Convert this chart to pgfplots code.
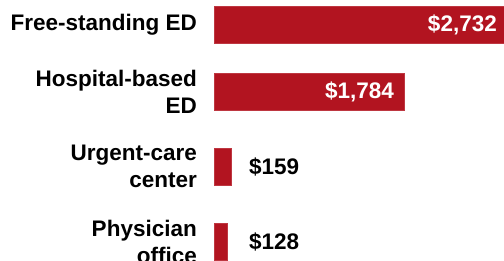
\documentclass[border=0pt]{standalone}
\usepackage{fontspec}
\setmainfont{Liberation Sans}
\usepackage{pgfplots}
\pgfplotsset{compat=1.18}
\definecolor{barred}{RGB}{178,20,32}
\begin{document}
\begin{tikzpicture}[x=1bp,y=1bp]
\useasboundingbox (0,0) rectangle (504,260);
\begin{axis}[
  at={(214bp,0bp)}, anchor=south west,
  scale only axis, width=290bp, height=260bp,
  xmin=0, xmax=2720, ymin=0, ymax=260, y dir=reverse,
  axis line style={draw=none}, ticks=none,
  clip mode=individual,
  xbar, bar width=37bp,
]
\addplot[fill=barred, draw=barred!85!white, line width=0.4bp] coordinates {(2732,25) (1784,91.5) (159,166.5) (128,241.5)};
\begin{scope}[every node/.style={inner sep=0pt, font=\bfseries\fontsize{22.5bp}{27bp}\selectfont}]
\node[anchor=east, align=right] at (axis cs:0,25) [xshift=-17bp] {Free-standing ED};
\node[anchor=east, align=right] at (axis cs:0,91.5) [xshift=-17bp] {Hospital-based\\ED};
\node[anchor=east, align=right] at (axis cs:0,166.5) [xshift=-17bp] {Urgent-care\\center};
\node[anchor=east, align=right] at (axis cs:0,241.5) [xshift=-17bp] {Physician\\office};
\node[anchor=east, text=white] at (axis cs:2720,25) [xshift=-7bp] {\$2,732};
\node[anchor=east, text=white] at (axis cs:1784,91.5) [xshift=-10bp] {\$1,784};
\node[anchor=west] at (axis cs:0,166.5) [xshift=35bp] {\$159};
\node[anchor=west] at (axis cs:0,241.5) [xshift=35bp] {\$128};
\end{scope}
\end{axis}
\end{tikzpicture}
\end{document}
